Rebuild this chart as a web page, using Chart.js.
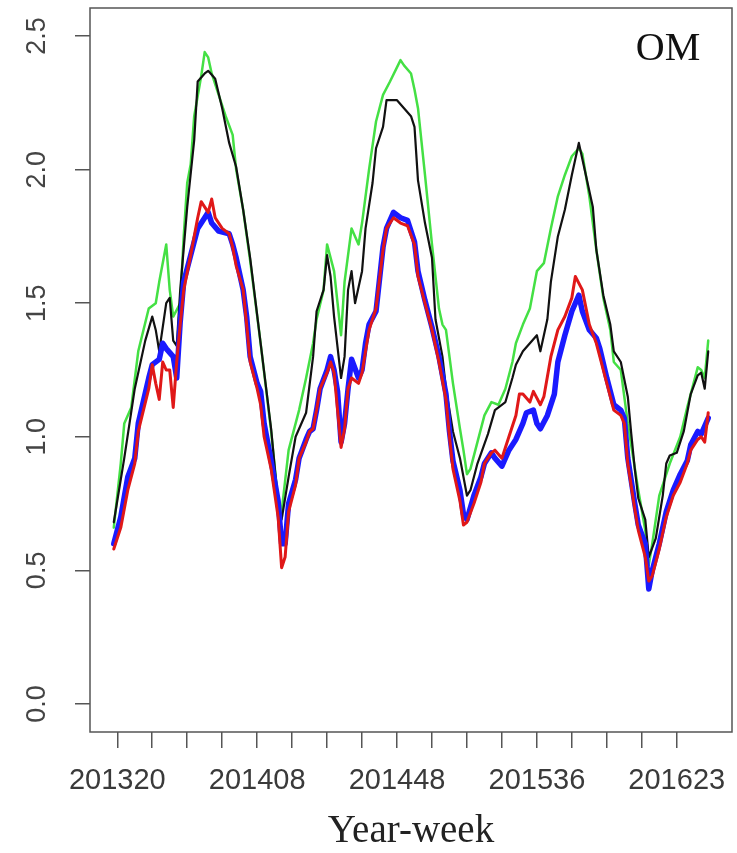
<!DOCTYPE html>
<html><head><meta charset="utf-8">
<script src="https://cdn.jsdelivr.net/npm/chart.js@4/dist/chart.umd.min.js"></script>
<style>html,body{margin:0;padding:0;background:#fff;}</style>
</head><body>
<canvas id="c" width="737" height="853"></canvas>
<script>
// x axis: week index, 0 = 201320
const tickLabels = ["201320","201408","201448","201536","201623"];
const tickLabelWeeks = [0,40,80,120,160];
const xTickWeeks = [0,10,20,30,40,50,60,70,80,90,100,110,120,130,140,150,160];
const yTicks = [0,0.5,1,1.5,2,2.5];
const yTickLabels = ["0.0","0.5","1.0","1.5","2.0","2.5"];

const blackWeeks = [-1,2,5,8,10,11,12,14,15,16,17,18,20,22,23,25,26,28,30,32,34,36,38,41,44,46,47,49,51,54,56,57,59,60,61,62,64,65,66,67,68,70,71,73,74,76,77,80,82,84,85,86,88,90,91,93,94,96,98,100,101,103,106,108,111,113,114,116,118,120,121,123,124,126,128,130,132,134,136,137,139,141,142,144,146,147,148,149,151,152,154,156,157,158,160,162,163,164,166,167,168,169];
const blackValues = [0.68,0.92,1.18,1.36,1.45,1.40,1.32,1.50,1.52,1.36,1.34,1.55,1.86,2.11,2.33,2.36,2.37,2.34,2.23,2.10,2.01,1.85,1.67,1.35,1.03,0.75,0.69,0.85,1.00,1.09,1.30,1.47,1.55,1.68,1.60,1.45,1.22,1.30,1.55,1.62,1.50,1.62,1.78,1.95,2.08,2.16,2.26,2.26,2.23,2.20,2.16,1.96,1.80,1.67,1.44,1.30,1.18,1.02,0.92,0.78,0.80,0.90,1.01,1.10,1.13,1.22,1.27,1.32,1.35,1.38,1.32,1.44,1.58,1.75,1.85,1.98,2.10,1.98,1.86,1.70,1.53,1.42,1.32,1.28,1.15,1.01,0.88,0.77,0.69,0.55,0.62,0.78,0.90,0.93,0.94,1.02,1.09,1.16,1.23,1.24,1.18,1.32];

const greenWeeks = [-1,1,2,4,6,9,11,12,14,15,16,18,19,20,21,22,24,25,26,27,29,31,33,34,36,38,41,44,46,47,49,52,54,56,57,59,60,62,63,64,65,67,69,70,72,74,76,78,81,82,84,85,86,88,90,92,93,94,96,98,99,100,101,103,105,107,109,111,113,114,116,118,120,122,124,126,128,130,132,133,135,137,139,141,142,144,146,149,151,152,153,155,158,161,163,166,167,168,169];
const greenValues = [0.66,0.90,1.05,1.11,1.32,1.48,1.50,1.58,1.72,1.55,1.45,1.50,1.75,1.95,2.02,2.20,2.35,2.44,2.42,2.36,2.28,2.20,2.13,2.00,1.85,1.66,1.35,1.02,0.76,0.72,0.95,1.10,1.22,1.35,1.44,1.55,1.72,1.62,1.50,1.38,1.58,1.78,1.72,1.80,2.00,2.18,2.28,2.33,2.41,2.39,2.36,2.30,2.23,1.98,1.72,1.48,1.42,1.40,1.20,1.03,0.95,0.86,0.88,0.98,1.08,1.13,1.12,1.18,1.28,1.35,1.42,1.48,1.62,1.65,1.78,1.90,1.98,2.05,2.08,2.06,1.90,1.70,1.52,1.40,1.28,1.25,1.05,0.80,0.65,0.52,0.60,0.78,0.90,1.00,1.11,1.26,1.25,1.22,1.36];

const blueWeeks = [-1,1,3,5,6,9,10,12,13,14,16,17,18,19,21,23,25,26,27,29,32,33,34,36,37,38,40,41,42,44,46,47,48,49,51,52,54,55,56,57,58,60,61,62,63,64,65,66,67,69,70,71,72,74,76,77,79,81,83,85,86,88,90,92,94,95,96,98,99,100,102,104,105,107,108,110,112,114,116,117,119,120,121,123,125,126,128,130,132,133,135,137,138,140,142,144,145,146,148,149,151,152,153,155,157,159,161,163,164,166,167,168,169];
const blueValues = [0.60,0.70,0.85,0.92,1.05,1.22,1.27,1.29,1.35,1.33,1.30,1.22,1.43,1.58,1.68,1.78,1.82,1.84,1.80,1.77,1.76,1.72,1.67,1.55,1.45,1.30,1.20,1.17,1.05,0.91,0.76,0.60,0.60,0.75,0.84,0.92,0.99,1.02,1.03,1.10,1.18,1.25,1.30,1.25,1.17,0.98,1.05,1.18,1.29,1.22,1.25,1.35,1.42,1.47,1.71,1.78,1.84,1.82,1.81,1.73,1.62,1.51,1.41,1.30,1.16,1.02,0.91,0.80,0.71,0.69,0.78,0.85,0.90,0.94,0.92,0.89,0.95,0.99,1.05,1.09,1.10,1.05,1.03,1.08,1.16,1.28,1.38,1.47,1.53,1.47,1.40,1.37,1.33,1.22,1.12,1.10,1.07,0.92,0.75,0.67,0.60,0.43,0.50,0.60,0.72,0.80,0.86,0.91,0.97,1.02,1.01,1.04,1.07];

const redWeeks = [-1,1,3,5,6,9,10,11,12,13,14,15,16,17,18,19,21,23,24,26,27,28,30,32,33,34,36,37,38,40,41,42,44,46,47,48,49,51,52,54,55,56,57,58,60,61,62,63,64,65,66,67,69,70,71,72,74,76,77,79,81,83,85,86,88,90,92,94,95,96,98,99,100,102,104,105,107,108,110,112,114,115,116,118,119,121,122,124,126,128,130,131,133,135,137,138,140,142,144,145,146,148,149,151,152,153,155,157,159,161,163,164,166,167,168,169];
const redValues = [0.58,0.66,0.80,0.90,1.02,1.18,1.27,1.20,1.14,1.28,1.25,1.25,1.11,1.28,1.42,1.55,1.68,1.82,1.88,1.84,1.89,1.82,1.78,1.76,1.71,1.64,1.55,1.42,1.28,1.18,1.12,1.00,0.88,0.70,0.51,0.55,0.72,0.82,0.92,0.98,1.02,1.03,1.10,1.18,1.24,1.28,1.24,1.10,0.96,1.03,1.18,1.22,1.20,1.24,1.32,1.40,1.48,1.70,1.78,1.82,1.80,1.79,1.72,1.60,1.50,1.40,1.28,1.14,1.00,0.88,0.76,0.67,0.68,0.75,0.83,0.90,0.94,0.95,0.92,1.00,1.08,1.16,1.16,1.13,1.17,1.12,1.15,1.30,1.40,1.45,1.52,1.60,1.55,1.42,1.35,1.30,1.20,1.10,1.08,1.05,0.90,0.73,0.65,0.55,0.46,0.48,0.58,0.70,0.78,0.83,0.90,0.95,0.99,1.00,0.98,1.09];

function pts(ws, vs){ return ws.map((w,i)=>({x:w, y:vs[i]})); }

const frame = {
  id:'frame',
  afterDraw(chart){
    const {ctx, chartArea:a, scales} = chart;
    ctx.save();
    ctx.strokeStyle = '#555';
    ctx.lineWidth = 1.5;
    ctx.strokeRect(a.left, a.top, a.right-a.left, a.bottom-a.top);
    ctx.fillStyle = '#444';
    ctx.font = '27px "Liberation Sans", Arial, sans-serif';
    ctx.textAlign = 'center';
    ctx.textBaseline = 'middle';
    const ys = scales.y;
    yTicks.forEach((v,i)=>{
      const y = ys.getPixelForValue(v);
      ctx.save();
      ctx.translate(38, y);
      ctx.rotate(-Math.PI/2);
      ctx.fillText(yTickLabels[i], 0, 0);
      ctx.restore();
    });
    ctx.fillStyle = '#111';
    ctx.font = '40px "Liberation Serif", "DejaVu Serif", serif';
    ctx.fillText('OM', a.right-64, 49);
    ctx.restore();
  }
};

new Chart(document.getElementById('c'), {
  type:'line',
  data:{datasets:[
    {data:pts(greenWeeks,greenValues), borderColor:'#44e044', borderWidth:2.5, order:4},
    {data:pts(blackWeeks,blackValues), borderColor:'#111111', borderWidth:2.2, order:3},
    {data:pts(blueWeeks,blueValues), borderColor:'#1a1aff', borderWidth:5.5, order:2},
    {data:pts(redWeeks,redValues), borderColor:'#e01818', borderWidth:3, order:1}
  ]},
  options:{
    responsive:false, animation:false, devicePixelRatio:1,
    elements:{point:{radius:0}, line:{tension:0, borderJoinStyle:'round', borderCapStyle:'round'}},
    layout:{padding:{left:0,right:5,top:8,bottom:0}},
    plugins:{legend:{display:false}, tooltip:{enabled:false}},
    scales:{
      x:{type:'linear', min:-7.8, max:175.8,
        afterBuildTicks(s){ s.ticks = xTickWeeks.map(v=>({value:v})); },
        afterFit(s){ s.height = 121; s.paddingRight = 0; s.paddingLeft = 0; },
        ticks:{autoSkip:false, maxRotation:0, minRotation:0, padding:16, color:'#3a3a3a',
          font:{family:'"Liberation Sans", Arial, sans-serif', size:29},
          callback(v){ const i = tickLabelWeeks.indexOf(v); return i>=0 ? tickLabels[i] : ''; }},
        grid:{drawOnChartArea:false, drawTicks:true, tickLength:16, color:'#555', tickColor:'#555', lineWidth:1.5},
        border:{display:false},
        title:{display:true, text:'Year-week', color:'#222', font:{family:'"Liberation Serif", "DejaVu Serif", serif', size:39, lineHeight:1.1}, padding:{top:0,bottom:0}}
      },
      y:{type:'linear', min:-0.105, max:2.605,
        afterBuildTicks(s){ s.ticks = yTicks.map(v=>({value:v})); },
        afterFit(s){ s.width = 90; },
        ticks:{color:'rgba(0,0,0,0)', font:{size:1}, padding:0},
        grid:{drawOnChartArea:false, drawTicks:true, tickLength:15, color:'#555', tickColor:'#555', lineWidth:1.5},
        border:{display:false}
      }
    }
  },
  plugins:[frame]
});
</script>
</body></html>
